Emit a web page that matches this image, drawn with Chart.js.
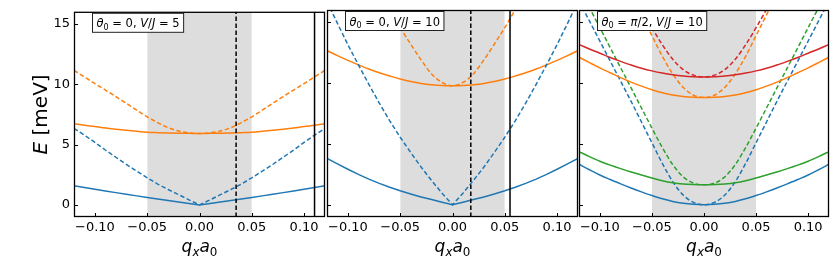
<!DOCTYPE html>
<html>
<head>
<meta charset="UTF-8">
<title>Dispersion</title>
<script src="https://cdn.jsdelivr.net/npm/chart.js"></script>
<style>
  body { margin: 0; background: #fff; }
  #wrap { position: relative; width: 830px; height: 256px; }
  canvas { position: absolute; left: 0; top: 0; }
</style>
</head>
<body>
<div id="wrap">
  <canvas id="c1" width="830" height="256"></canvas>
  <canvas id="c2" width="830" height="256"></canvas>
  <canvas id="c3" width="830" height="256"></canvas>
</div>
<script>
// q_x a_0 grid
const qx = [-0.12,-0.11,-0.10,-0.09,-0.08,-0.07,-0.06,-0.05,-0.04,-0.03,-0.02,-0.01,0,
            0.01,0.02,0.03,0.04,0.05,0.06,0.07,0.08,0.09,0.10,0.11,0.12];

const xTickVals = [-0.10, -0.05, 0, 0.05, 0.10];
const xTickLabels = ['\u22120.10', '\u22120.05', '0.00', '0.05', '0.10'];
const yTickVals = [0, 5, 10, 15];
const yTickLabels = ['0', '5', '10', '15'];

const shadeSpan = [-0.05, 0.05];

// panel 1: theta0 = 0, V/J = 5
const p1BlueSolid = [1.60,1.45,1.30,1.16,1.02,0.88,0.75,0.62,0.49,0.36,0.24,0.12,0,0.12,0.24,0.36,0.49,0.62,0.75,0.88,1.02,1.16,1.30,1.45,1.60];
const p1BlueDash = [6.35,5.78,5.18,4.55,3.95,3.35,2.80,2.25,1.73,1.28,0.85,0.42,0,0.42,0.85,1.28,1.73,2.25,2.80,3.35,3.95,4.55,5.18,5.78,6.35];
const p1OrangeSolid = [6.72,6.60,6.49,6.37,6.27,6.18,6.10,6.03,5.99,5.96,5.94,5.93,5.92,5.93,5.94,5.96,5.99,6.03,6.10,6.18,6.27,6.37,6.49,6.60,6.72];
const p1OrangeDash = [11.15,10.60,10.05,9.52,8.98,8.42,7.85,7.30,6.82,6.40,6.12,5.97,5.92,5.97,6.12,6.40,6.82,7.30,7.85,8.42,8.98,9.52,10.05,10.60,11.15];
const p1Dashed = 0.035;
const p1Solid = 0.11;

// panel 2: theta0 = 0, V/J = 10
const p2BlueSolid = [3.82,3.36,2.92,2.50,2.11,1.76,1.44,1.15,0.89,0.65,0.43,0.21,0,0.21,0.43,0.65,0.89,1.15,1.44,1.76,2.11,2.50,2.92,3.36,3.82];
const p2BlueDash = [16.7,14.9,13.15,11.5,9.9,8.35,6.9,5.55,4.3,3.1,2.0,0.95,0,0.95,2.0,3.1,4.3,5.55,6.9,8.35,9.9,11.5,13.15,14.9,16.7];
const p2OrangeSolid = [12.67,12.25,11.86,11.5,11.15,10.85,10.58,10.33,10.13,9.97,9.86,9.79,9.77,9.79,9.86,9.97,10.13,10.33,10.58,10.85,11.15,11.5,11.86,12.25,12.67];
const p2OrangeDash = [null,null,null,null,null,17.6,16.05,14.55,13.2,11.9,10.75,10.05,9.77,10.05,10.75,11.9,13.2,14.55,16.05,17.6,null,null,null,null,null];
const p2Dashed = 0.0175;
const p2Solid = 0.055;

// panel 3: theta0 = pi/2, V/J = 10
const p3BlueSolid = [3.33,2.88,2.45,2.08,1.72,1.38,1.06,0.76,0.50,0.28,0.13,0.04,0,0.04,0.13,0.28,0.50,0.76,1.06,1.38,1.72,2.08,2.45,2.88,3.33];
const p3GreenSolid = [4.37,3.96,3.58,3.26,2.97,2.70,2.45,2.21,1.98,1.81,1.71,1.66,1.64,1.66,1.71,1.81,1.98,2.21,2.45,2.70,2.97,3.26,3.58,3.96,4.37];
const p3OrangeSolid = [12.12,11.68,11.25,10.85,10.45,10.08,9.75,9.45,9.20,9.02,8.90,8.83,8.81,8.83,8.90,9.02,9.20,9.45,9.75,10.08,10.45,10.85,11.25,11.68,12.12];
const p3RedSolid = [13.17,12.80,12.45,12.10,11.78,11.48,11.22,11.00,10.82,10.68,10.58,10.52,10.50,10.52,10.58,10.68,10.82,11.00,11.22,11.48,11.78,12.10,12.45,12.80,13.17];
const p3BlueDash = [16.75,15.1,13.45,11.8,10.15,8.5,6.8,5.1,3.4,1.9,0.8,0.2,0,0.2,0.8,1.9,3.4,5.1,6.8,8.5,10.15,11.8,13.45,15.1,16.75];
const p3GreenDash = [17.85,16.2,14.55,12.9,11.25,9.6,7.95,6.3,4.7,3.3,2.3,1.78,1.64,1.78,2.3,3.3,4.7,6.3,7.95,9.6,11.25,12.9,14.55,16.2,17.85];
const p3OrangeDash = [null,null,null,null,null,17.3,15.6,13.9,12.2,10.75,9.65,9.0,8.81,9.0,9.65,10.75,12.2,13.9,15.6,17.3,null,null,null,null,null];
const p3RedDash = [null,null,null,null,null,17.6,16.05,14.55,13.15,11.95,11.1,10.65,10.5,10.65,11.1,11.95,13.15,14.55,16.05,17.6,null,null,null,null,null];

const panelTitles = [
  [{t:'\u03b8', i:true}, {t:'0', sub:true}, {t:' = 0, '}, {t:'V', i:true}, {t:'/'}, {t:'J', i:true}, {t:' = 5'}],
  [{t:'\u03b8', i:true}, {t:'0', sub:true}, {t:' = 0, '}, {t:'V', i:true}, {t:'/'}, {t:'J', i:true}, {t:' = 10'}],
  [{t:'\u03b8', i:true}, {t:'0', sub:true}, {t:' = '}, {t:'\u03c0', i:true}, {t:'/2, '}, {t:'V', i:true}, {t:'/'}, {t:'J', i:true}, {t:' = 10'}]
];
const xTitle = [{t:'q', i:true}, {t:'x', i:true, sub:true}, {t:'a', i:true}, {t:'0', sub:true}];
const yTitle = [{t:'E', i:true}, {t:' [meV]'}];

const BLUE = '#1f77b4', ORANGE = '#ff7f0e', GREEN = '#2ca02c', RED = '#d62728';
const FONT = "'DejaVu Sans'";

function curve(ys, color, dashed, kinked) {
  return {
    data: qx.map((x, i) => ({x: x, y: ys[i]})),
    borderColor: color,
    borderWidth: 1.5,
    borderDash: dashed ? [4.5, 2.5] : [],
    pointRadius: 0,
    fill: false,
    tension: 0,
    cubicInterpolationMode: kinked ? 'default' : 'monotone',
    order: 1
  };
}

function vline(x, dashed) {
  return {
    data: [{x: x, y: -1}, {x: x, y: 16}],
    borderColor: '#000',
    borderWidth: 1.5,
    borderDash: dashed ? [4.5, 2.5] : [],
    pointRadius: 0,
    fill: false,
    order: 0
  };
}

function shade() {
  return {
    data: [{x: shadeSpan[0], y: 16}, {x: shadeSpan[1], y: 16}],
    borderWidth: 0,
    pointRadius: 0,
    fill: 'start',
    backgroundColor: 'rgba(128,128,128,0.27)',
    order: 5
  };
}

function partFont(p, size) {
  const s = p.sub ? size * 0.7 : size;
  return (p.i ? 'italic ' : '') + s + 'px ' + FONT;
}

function richWidth(ctx, parts, size) {
  let w = 0;
  parts.forEach(p => { ctx.font = partFont(p, size); w += ctx.measureText(p.t).width; });
  return w;
}

function drawRich(ctx, parts, x, y, size) {
  let cx = x;
  ctx.textAlign = 'left';
  ctx.textBaseline = 'alphabetic';
  parts.forEach(p => {
    ctx.font = partFont(p, size);
    ctx.fillText(p.t, cx, p.sub ? y + size * 0.22 : y);
    cx += ctx.measureText(p.t).width;
  });
}

const decor = {
  id: 'decor',
  afterDraw(chart, args, opts) {
    const ctx = chart.ctx;
    const a = chart.chartArea;
    const sx = chart.scales.x, sy = chart.scales.y;
    ctx.save();
    ctx.strokeStyle = '#000';
    ctx.fillStyle = '#000';
    // inward ticks
    ctx.lineWidth = 1;
    xTickVals.forEach(v => {
      const px = Math.round(sx.getPixelForValue(v)) + 0.5;
      ctx.beginPath(); ctx.moveTo(px, a.bottom); ctx.lineTo(px, a.bottom - 4); ctx.stroke();
    });
    yTickVals.forEach(v => {
      const py = Math.round(sy.getPixelForValue(v)) + 0.5;
      ctx.beginPath(); ctx.moveTo(a.left, py); ctx.lineTo(a.left + 4, py); ctx.stroke();
    });
    // frame
    ctx.lineWidth = 1.3;
    ctx.strokeRect(a.left + 0.5, a.top + 0.5, a.right - a.left - 1, a.bottom - a.top - 1);
    // panel label box
    const size = 11.5;
    const tw = richWidth(ctx, opts.title, size);
    const bx = a.left + 18.5, by = a.top + 1.5;
    ctx.fillStyle = '#fff';
    ctx.fillRect(bx, by, tw + 8, 19);
    ctx.lineWidth = 1;
    ctx.strokeStyle = '#222';
    ctx.strokeRect(bx, by, tw + 8, 19);
    ctx.fillStyle = '#000';
    drawRich(ctx, opts.title, bx + 4, by + 14, size);
    // x title
    const xs = 17;
    const xw = richWidth(ctx, xTitle, xs);
    drawRich(ctx, xTitle, (a.left + a.right) / 2 - xw / 2, 252, xs);
    // y title
    if (opts.yTitle) {
      const ys = 20;
      const yw = richWidth(ctx, yTitle, ys);
      ctx.translate(47, (a.top + a.bottom) / 2);
      ctx.rotate(-Math.PI / 2);
      drawRich(ctx, yTitle, -yw / 2, 0, ys);
    }
    ctx.restore();
  }
};

function makeChart(id, datasets, left, right, showY, title) {
  return new Chart(document.getElementById(id), {
    type: 'line',
    data: { datasets: datasets },
    plugins: [decor],
    options: {
      responsive: false,
      animation: false,
      events: [],
      layout: { padding: { left: left, right: right, top: 10, bottom: 0 } },
      plugins: {
        legend: { display: false },
        tooltip: { enabled: false },
        decor: { title: title, yTitle: showY }
      },
      scales: {
        x: {
          type: 'linear',
          min: -0.12, max: 0.12,
          afterBuildTicks: s => { s.ticks = xTickVals.map(v => ({value: v})); },
          afterFit: s => { s.height = 39; s.paddingLeft = 0; s.paddingRight = 0; },
          grid: { display: false, drawTicks: false, tickLength: 0 },
          border: { display: false },
          ticks: {
            autoSkip: false, maxRotation: 0, padding: 3, color: '#000',
            font: { family: 'DejaVu Sans', size: 13 },
            callback: (v, i) => xTickLabels[i]
          }
        },
        y: {
          type: 'linear',
          display: showY,
          min: -1, max: 16,
          afterBuildTicks: s => { s.ticks = yTickVals.map(v => ({value: v})); },
          afterFit: s => { s.width = showY ? 74 : 0; },
          grid: { display: false, drawTicks: false, tickLength: 0 },
          border: { display: false },
          ticks: {
            padding: 4, color: '#000',
            font: { family: 'DejaVu Sans', size: 13 },
            callback: (v, i) => yTickLabels[i]
          }
        }
      }
    }
  });
}

makeChart('c1', [
  shade(),
  curve(p1BlueSolid, BLUE, false, true),
  curve(p1BlueDash, BLUE, true, true),
  curve(p1OrangeSolid, ORANGE, false, false),
  curve(p1OrangeDash, ORANGE, true, false),
  vline(p1Dashed, true),
  vline(p1Solid, false)
], 0, 505, true, panelTitles[0]);

makeChart('c2', [
  shade(),
  curve(p2BlueSolid, BLUE, false, true),
  curve(p2BlueDash, BLUE, true, true),
  curve(p2OrangeSolid, ORANGE, false, false),
  curve(p2OrangeDash, ORANGE, true, false),
  vline(p2Dashed, true),
  vline(p2Solid, false)
], 327, 252, false, panelTitles[1]);

makeChart('c3', [
  shade(),
  curve(p3BlueSolid, BLUE, false, false),
  curve(p3GreenSolid, GREEN, false, false),
  curve(p3OrangeSolid, ORANGE, false, false),
  curve(p3RedSolid, RED, false, false),
  curve(p3BlueDash, BLUE, true, false),
  curve(p3GreenDash, GREEN, true, false),
  curve(p3OrangeDash, ORANGE, true, false),
  curve(p3RedDash, RED, true, false)
], 579, 1, false, panelTitles[2]);
</script>
</body>
</html>
